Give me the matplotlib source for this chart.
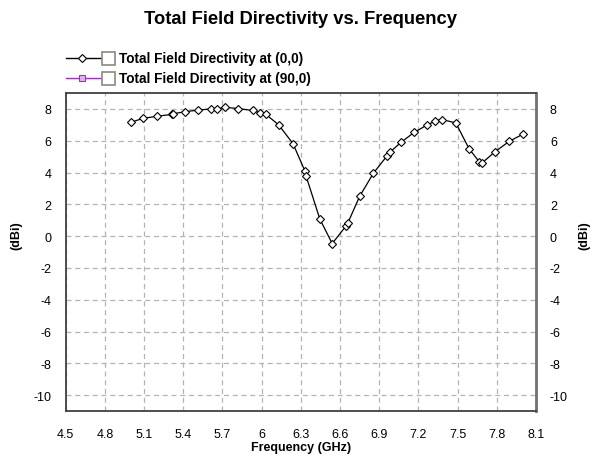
import matplotlib
matplotlib.use("Agg")
import matplotlib.pyplot as plt
from matplotlib.lines import Line2D
from matplotlib.patches import Rectangle

freq_ghz = [5.0, 5.09, 5.2, 5.31, 5.32, 5.41, 5.51, 5.61, 5.66, 5.72, 5.82, 5.93, 5.99, 6.03,
            6.13, 6.24, 6.33, 6.34, 6.445, 6.54, 6.646, 6.659, 6.75, 6.855, 6.958, 6.983,
            7.065, 7.167, 7.269, 7.33, 7.379, 7.486, 7.588, 7.667, 7.69, 7.787, 7.897, 8.0]
dir_00 = [7.16, 7.40, 7.54, 7.65, 7.69, 7.82, 7.92, 8.0, 8.0, 8.1, 8.02, 7.9, 7.75, 7.67,
          7.0, 5.81, 4.12, 3.78, 1.08, -0.47, 0.64, 0.81, 2.50, 3.95, 5.03, 5.28,
          5.89, 6.52, 7.0, 7.24, 7.33, 7.12, 5.49, 4.66, 4.62, 5.31, 5.97, 6.41]
freq_90 = []
dir_90 = []

x_ticks = [4.5, 4.8, 5.1, 5.4, 5.7, 6.0, 6.3, 6.6, 6.9, 7.2, 7.5, 7.8, 8.1]
x_labels = ["4.5", "4.8", "5.1", "5.4", "5.7", "6", "6.3", "6.6", "6.9", "7.2", "7.5", "7.8", "8.1"]
y_ticks = [-10, -8, -6, -4, -2, 0, 2, 4, 6, 8]

series_names = ["Total Field Directivity at (0,0)", "Total Field Directivity at (90,0)"]
title = "Total Field Directivity vs. Frequency"

plt.rcParams['font.family'] = ['Liberation Sans', 'DejaVu Sans']
plt.rcParams['axes.unicode_minus'] = False

W, H = 597, 456
fig = plt.figure(figsize=(W / 100, H / 100), dpi=100)
ax = fig.add_axes([65.7 / W, 1 - 412 / H, (536 - 65.7) / W, (412 - 94) / H])

ax.plot(freq_ghz, dir_00, color="black", lw=0.9, marker="D", markersize=4.0,
        markerfacecolor="white", markeredgecolor="black", markeredgewidth=0.8, zorder=3)
ax.plot(freq_90, dir_90, color="#9b30d0", lw=0.9, marker="s", markersize=4,
        markerfacecolor="#e0b0f0", markeredgecolor="#9b30d0", zorder=3)

ax.set_xlim(4.5, 8.1)
ax.set_ylim(-11, 9)
ax.set_xticks(x_ticks)
ax.set_xticklabels(x_labels)
ax.set_yticks(y_ticks)
ax.grid(True, color="#b4b4b4", linestyle=(0, (4, 3)), lw=0.9)
ax.tick_params(length=0, labelsize=9, colors="black")
ax.tick_params(axis="y", pad=10)
ax.tick_params(axis="x", pad=12)
ax.tick_params(axis="y", labelright=True)
for s in ax.spines.values():
    s.set_color("#404040")
    s.set_linewidth(1.3)
ax.spines["right"].set_color("#707070")
ax.spines["right"].set_linewidth(2)

ax.set_xlabel("Frequency (GHz)", fontsize=9, fontweight="bold", labelpad=1)
fig.text(16 / W, 1 - 236 / H, "(dBi)", rotation=90, fontsize=9, fontweight="bold",
         ha="center", va="center")
fig.text(584 / W, 1 - 236 / H, "(dBi)", rotation=90, fontsize=9, fontweight="bold",
         ha="center", va="center")

fig.text(300 / W, 1 - 20 / H, title, fontsize=13.2, fontweight="bold", ha="center", va="center")

# legend
for i, (name, col, mk, mfc) in enumerate([(series_names[0], "black", "D", "white"),
                                           (series_names[1], "#9b30d0", "s", "#e0b0f0")]):
    yc = 1 - (59 + 20 * i) / H
    fig.add_artist(Line2D([65.5 / W, 99.5 / W], [yc, yc], color=col, lw=1.0,
                          transform=fig.transFigure))
    fig.add_artist(Line2D([82.5 / W], [yc], color=col, marker=mk, markersize=4,
                          markerfacecolor=mfc, markeredgecolor=col, markeredgewidth=0.8,
                          transform=fig.transFigure))
    fig.add_artist(Rectangle((102 / W, yc - 6.5 / H), 13 / W, 13 / H, transform=fig.transFigure,
                             facecolor="white", edgecolor="#8a8a80", lw=1.2))
    fig.text(119 / W, yc, name, fontsize=9.8, fontweight="bold", ha="left", va="center")

fig.savefig("out.png", dpi=100)
